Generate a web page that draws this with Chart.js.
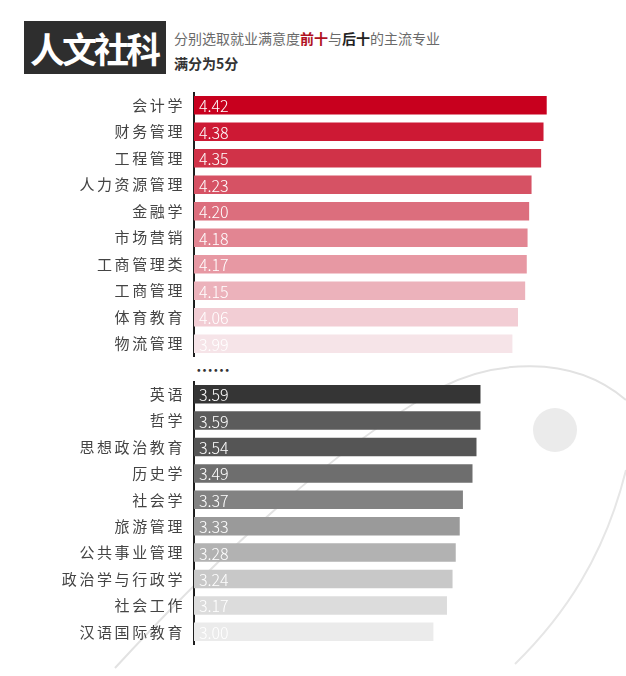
<!DOCTYPE html>
<html>
<head>
<meta charset="utf-8">
<script src="https://cdn.jsdelivr.net/npm/chart.js@4/dist/chart.umd.min.js"></script>
<style>
  html, body { margin: 0; padding: 0; background: #fff; }
  body { width: 626px; height: 676px; position: relative; overflow: hidden;
         font-family: "Noto Sans CJK SC", "Noto Sans", sans-serif; }
  #deco { position: absolute; left: 0; top: 0; }
  .box { position: absolute; left: 24px; top: 21px; width: 142px; height: 53px;
         background: #2e2e2e; color: #fff; font-weight: bold; font-size: 35px;
         line-height: 53px; text-align: center; letter-spacing: -3px; text-indent: -2px; }
  .sub { position: absolute; left: 174px; top: 29px; font-size: 14px; line-height: 18px; color: #6a6a6a; }
  .sub b.red { color: #b0121f; }
  .sub b { color: #222; }
  .full { position: absolute; left: 174px; top: 54px; font-size: 14px; line-height: 18px;
          color: #333; font-weight: bold; }
  .dots { position: absolute; left: 196px; top: 360px; font-size: 17px; line-height: 20px;
          font-weight: bold; color: #333; }
  canvas.c { position: absolute; left: 0; }
  #topChart { top: 92px; }
  #bottomChart { top: 381px; }
</style>
</head>
<body>
<svg id="deco" width="626" height="676">
  <path d="M 115 668 C 210 565, 330 450, 440 388 C 490 362, 570 352, 626 400" fill="none" stroke="#e2e2e2" stroke-width="2"/>
  <path d="M 626 470 C 605 555, 565 615, 515 664" fill="none" stroke="#e6e6e6" stroke-width="2"/>
  <circle cx="555" cy="430" r="22" fill="#ebebeb"/>
</svg>

<div class="box">人文社科</div>
<div class="sub">分别选取就业满意度<b class="red">前十</b>与<b>后十</b>的主流专业</div>
<div class="full">满分为5分</div>
<div class="dots">……</div>

<canvas id="topChart" class="c" width="626" height="265"></canvas>
<canvas id="bottomChart" class="c" width="626" height="264"></canvas>

<script>
// 前十
const topLabels = ['会计学', '财务管理', '工程管理', '人力资源管理', '金融学',
                   '市场营销', '工商管理类', '工商管理', '体育教育', '物流管理'];
const topValues = [4.42, 4.38, 4.35, 4.23, 4.20, 4.18, 4.17, 4.15, 4.06, 3.99];

// 后十
const bottomLabels = ['英语', '哲学', '思想政治教育', '历史学', '社会学',
                      '旅游管理', '公共事业管理', '政治学与行政学', '社会工作', '汉语国际教育'];
const bottomValues = [3.59, 3.59, 3.54, 3.49, 3.37, 3.33, 3.28, 3.24, 3.17, 3.00];

const topColors = ['#c8001e', '#cd1934', '#d03248', '#d65264', '#dc6e7d',
                   '#e28592', '#e798a3', '#ecb2bb', '#f2cdd4', '#f6e4e8'];
const bottomColors = ['#353535', '#5c5c5c', '#555555', '#6e6e6e', '#828282',
                      '#9a9a9a', '#b2b2b2', '#c8c8c8', '#dcdcdc', '#ebebeb'];

// 标签字距 + 条内数值
const labelPlugin = {
    id: 'labelPlugin',
    beforeDraw(chart) { chart.ctx.letterSpacing = '2.6px'; },
    beforeDatasetsDraw(chart) { chart.ctx.letterSpacing = '0px'; },
    afterDatasetsDraw(chart) {
        const ctx = chart.ctx;
        const meta = chart.getDatasetMeta(0);
        const values = chart.data.datasets[0].data;
        ctx.save();
        ctx.font = '300 16px "Noto Sans CJK SC", "Open Sans", sans-serif';
        ctx.fillStyle = '#ffffff';
        ctx.textAlign = 'left';
        ctx.textBaseline = 'middle';
        meta.data.forEach(function (bar, i) {
            ctx.fillText(values[i].toFixed(2), bar.base + 5, bar.y + 1);
        });
        ctx.restore();
    }
};

function makeChart(id, labels, values, colors) {
    return new Chart(document.getElementById(id), {
        type: 'bar',
        data: {
            labels: labels,
            datasets: [{
                data: values,
                backgroundColor: colors,
                borderWidth: 0,
                categoryPercentage: 1,
                barPercentage: 0.7
            }]
        },
        options: {
            indexAxis: 'y',
            responsive: false,
            animation: false,
            layout: { padding: { left: 0, right: 33, top: 0, bottom: 0 } },
            plugins: { legend: { display: false }, tooltip: { enabled: false } },
            scales: {
                x: { min: 0, max: 5, display: false },
                y: {
                    grid: { display: false, drawTicks: false },
                    border: { display: true, color: '#1e1e1e', width: 2 },
                    ticks: {
                        color: '#444',
                        padding: 9,
                        font: { family: '"Noto Sans CJK SC", sans-serif', size: 15 }
                    },
                    afterFit: function (scale) {
                        scale.width = 194;
                        scale.paddingTop = 0;
                        scale.paddingBottom = 0;
                    }
                }
            }
        },
        plugins: [labelPlugin]
    });
}

makeChart('topChart', topLabels, topValues, topColors);
makeChart('bottomChart', bottomLabels, bottomValues, bottomColors);
</script>
</body>
</html>
